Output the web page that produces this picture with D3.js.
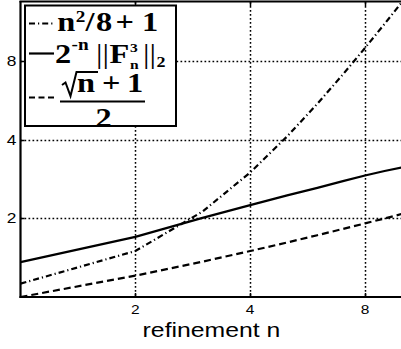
<!DOCTYPE html>
<html>
<head>
<meta charset="utf-8">
<script src="https://cdn.jsdelivr.net/npm/d3@7"></script>
<style>
  body { margin: 0; background: #fff; }
  svg { display: block; }
</style>
</head>
<body>
<div id="chart"></div>
<script>
(function(){
    'use strict';

    // values (log2-log2 axes)
    var refinement = [1, 2, 3, 4, 5, 6, 7, 8, 9, 10];
    var quadGrowth = [1.125, 1.5, 2.125, 3, 4.125, 5.5, 7.125, 9, 11.125, 13.5];
    var normF3 = [1.36, 1.70, 2.01, 2.25, 2.45, 2.62, 2.78, 2.92, 3.04, 3.14];
    var sqrtGrowth = [1, 1.207, 1.366, 1.5, 1.618, 1.725, 1.823, 1.914, 2, 2.081];
    var xTicks = [2, 4, 8];
    var yTicks = [2, 4, 8];
    var xLabel = 'refinement n';

    var width = 401, height = 349;
    var plot = {left: 20.5, right: 402, top: 2, bottom: 297};
    var sx = 1.24;      // the picture is a bit wider than tall
    var legendSx = 1.2;

    var svg = d3.select('#chart').append('svg')
        .attr('width', width).attr('height', height);

    var x = d3.scaleLog().base(2).domain([1, 10]).range([plot.left, plot.right]);
    var y = d3.scaleLog().base(2).domain([1, 13.5]).range([plot.bottom, plot.top]);

    svg.append('clipPath').attr('id', 'clip')
        .append('rect').attr('x', plot.left).attr('y', plot.top)
        .attr('width', plot.right - plot.left).attr('height', plot.bottom - plot.top);

    // grid
    var grid = svg.append('g').attr('stroke', '#000').attr('stroke-width', 1.5)
        .attr('stroke-dasharray', '1.7,2.3');
    grid.selectAll('.gx').data(xTicks).enter().append('line')
        .attr('x1', function(d) { return Math.round(x(d)) + 0.5; })
        .attr('x2', function(d) { return Math.round(x(d)) + 0.5; })
        .attr('y1', plot.top).attr('y2', plot.bottom);
    grid.selectAll('.gy').data(yTicks).enter().append('line')
        .attr('y1', function(d) { return Math.round(y(d)) + 0.5; })
        .attr('y2', function(d) { return Math.round(y(d)) + 0.5; })
        .attr('x1', plot.left).attr('x2', width);

    // ticks (inward)
    var ticks = svg.append('g').attr('stroke', '#000').attr('stroke-width', 1.5);
    xTicks.forEach(function(d) {
        var px = Math.round(x(d)) + 0.5;
        ticks.append('line').attr('x1', px).attr('x2', px).attr('y1', plot.bottom).attr('y2', plot.bottom - 4);
        ticks.append('line').attr('x1', px).attr('x2', px).attr('y1', plot.top).attr('y2', plot.top + 4);
    });
    yTicks.forEach(function(d) {
        var py = Math.round(y(d)) + 0.5;
        ticks.append('line').attr('x1', plot.left).attr('x2', plot.left + 4).attr('y1', py).attr('y2', py);
    });

    // data lines
    var line = d3.line()
        .x(function(d) { return x(d[0]); })
        .y(function(d) { return y(d[1]); });
    var series = [
        {values: quadGrowth, dash: '6,3,1.2,3'},
        {values: normF3, dash: null},
        {values: sqrtGrowth, dash: '7,4'}
    ];
    var lines = svg.append('g').attr('clip-path', 'url(#clip)');
    series.forEach(function(s) {
        lines.append('path')
            .datum(refinement.map(function(n, i) { return [n, s.values[i]]; }))
            .attr('d', line)
            .attr('fill', 'none').attr('stroke', '#000').attr('stroke-width', 2.2)
            .attr('stroke-dasharray', s.dash);
    });

    // axes box
    var frame = svg.append('g').attr('stroke', '#000').attr('stroke-width', 2.2).attr('fill', 'none');
    frame.append('line').attr('x1', plot.left).attr('x2', plot.left).attr('y1', plot.top - 1).attr('y2', plot.bottom + 1);
    frame.append('line').attr('x1', plot.left - 1).attr('x2', width).attr('y1', plot.bottom).attr('y2', plot.bottom);
    frame.append('line').attr('x1', plot.left - 1).attr('x2', width).attr('y1', plot.top - 0.5).attr('y2', plot.top - 0.5);

    function stretched(parent, px, py, str, size, anchor) {
        return parent.append('g').attr('transform', 'translate(' + px + ',' + py + ') scale(' + sx + ',1)')
            .append('text').attr('text-anchor', anchor)
            .attr('font-family', '"Liberation Sans", Arial, sans-serif')
            .attr('font-size', size).attr('fill', '#000').text(str);
    }

    yTicks.forEach(function(d) { stretched(svg, 16.5, y(d) + 5, d, 14, 'end'); });
    xTicks.forEach(function(d) { stretched(svg, x(d), 313.5, d, 12.5, 'middle'); });
    stretched(svg, 211.5, 336.5, xLabel, 20, 'middle');

    // legend
    var legend = svg.append('g');
    legend.append('rect').attr('x', 25).attr('y', 5.5).attr('width', 151).attr('height', 120.5)
        .attr('fill', '#fff').attr('stroke', '#000').attr('stroke-width', 2);

    var legendLines = [
        {y: 23.5, dash: '6,3,1.2,3'},
        {y: 53.5, dash: null},
        {y: 97.5, dash: '6,3.5'}
    ];
    legendLines.forEach(function(l) {
        legend.append('line').attr('x1', 29).attr('x2', 54).attr('y1', l.y).attr('y2', l.y)
            .attr('stroke', '#000').attr('stroke-width', 2.2).attr('stroke-dasharray', l.dash);
    });

    // one glyph run of the TeX-like legend labels
    function glyph(px, py, str, size, light) {
        return legend.append('g')
            .attr('transform', 'translate(' + px + ',' + py + ') scale(' + legendSx + ',1)')
            .append('text')
            .attr('font-family', '"Liberation Serif", "Times New Roman", serif')
            .attr('font-weight', light ? 'normal' : 'bold')
            .attr('font-size', size).attr('fill', '#000').text(str);
    }

    // n^2/8 + 1
    glyph(57.3, 31, 'n', 27);
    glyph(75.8, 22, '2', 16);
    glyph(85.5, 31, '/', 27);
    glyph(96, 31, '8', 27);
    glyph(115.5, 31, '+', 27);
    glyph(142, 31, '1', 27);

    // 2^-n ||F^3_n||_2
    glyph(55, 63, '2', 27);
    glyph(71.5, 50, '-n', 16);
    glyph(96, 63, '||', 27, true);
    glyph(109.5, 63, 'F', 27);
    glyph(130, 51.5, '3', 13);
    glyph(130, 69, 'n', 13);
    glyph(143, 63, '||', 27, true);
    glyph(156.5, 67, '2', 15);

    // (sqrt(n) + 1) / 2
    legend.append('path').attr('d', 'M62,85 L65.5,82.5 L70.5,96 L76.5,72 L98,72')
        .attr('fill', 'none').attr('stroke', '#000').attr('stroke-width', 2);
    glyph(77, 92, 'n', 27);
    glyph(102, 92, '+', 27);
    glyph(127, 92, '1', 27);
    legend.append('line').attr('x1', 60).attr('x2', 145).attr('y1', 101.5).attr('y2', 101.5)
        .attr('stroke', '#000').attr('stroke-width', 2);
    glyph(95.5, 127, '2', 27);
})();
</script>
</body>
</html>
